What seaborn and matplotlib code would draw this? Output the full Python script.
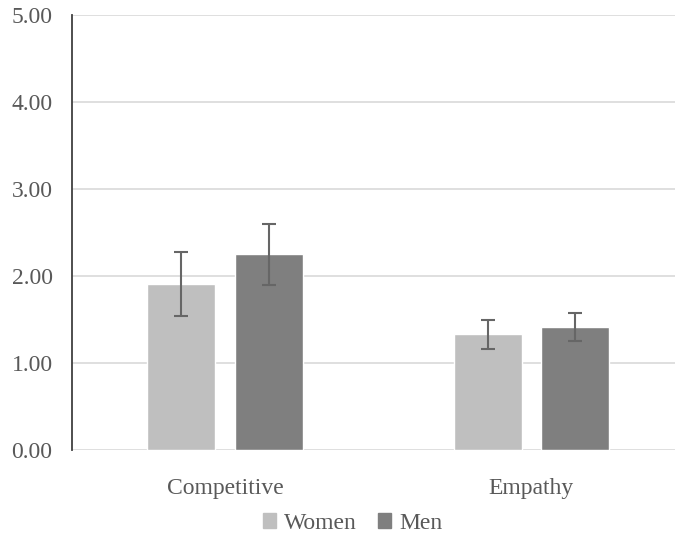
import pandas as pd
import matplotlib.pyplot as plt
import seaborn as sns
from matplotlib.patches import Patch

categories = ["Competitive", "Empathy"]
groups = ["Women", "Men"]
women_means = [1.91, 1.33]
men_means = [2.25, 1.41]
women_err = [0.37, 0.17]
men_err = [0.35, 0.16]
yticks = [0, 1, 2, 3, 4, 5]

colors = {"Women": "#bfbfbf", "Men": "#7f7f7f"}
text_color = "#595959"

df = pd.DataFrame({
    "category": categories * 2,
    "group": ["Women"] * 2 + ["Men"] * 2,
    "value": women_means + men_means,
})
errs = {"Women": women_err, "Men": men_err}

sns.set_style("white")
plt.rcParams["font.family"] = ["Liberation Serif", "DejaVu Serif"]

fig = plt.figure(figsize=(6.75, 5.33), dpi=100)
ax = fig.add_axes([0.1067, 0.1557, 0.907, 0.816])

sns.barplot(data=df, x="category", y="value", hue="group", hue_order=groups,
            palette=colors, width=0.57, gap=0.22, errorbar=None, legend=False,
            saturation=1, ax=ax, zorder=3)

# error bars at the bar centres
for container, g in zip(ax.containers, groups):
    for bar, e in zip(container, errs[g]):
        cx = bar.get_x() + bar.get_width() / 2
        ax.errorbar(cx, bar.get_height(), yerr=e, color="#666666", lw=1.5,
                    capsize=5, capthick=1.5, zorder=4)

ax.set_ylim(0, 5)
ax.set_xlim(-0.5, 1.5)
ax.set_yticks(yticks)
ax.set_yticklabels([f"{v:.2f}" for v in yticks])
ax.yaxis.grid(True, color="#d9d9d9", lw=1.2, zorder=0)
ax.set_axisbelow(True)
ax.set_xlabel("")
ax.set_ylabel("")
for s in ["top", "right", "bottom"]:
    ax.spines[s].set_visible(False)
ax.spines["left"].set_color("#404040")
ax.spines["left"].set_linewidth(1.3)
ax.tick_params(axis="y", length=0, pad=14, labelsize=17, labelcolor=text_color)
ax.tick_params(axis="x", length=0, pad=20, labelsize=17, labelcolor=text_color)

handles = [Patch(color=colors[g]) for g in groups]
fig.legend(handles, groups, loc="center", bbox_to_anchor=(0.523, 0.018), ncol=2,
           frameon=False, fontsize=17, labelcolor=text_color, handlelength=0.55,
           handleheight=0.55, handletextpad=0.35, columnspacing=0.9)

fig.savefig("out.png", dpi=100)
